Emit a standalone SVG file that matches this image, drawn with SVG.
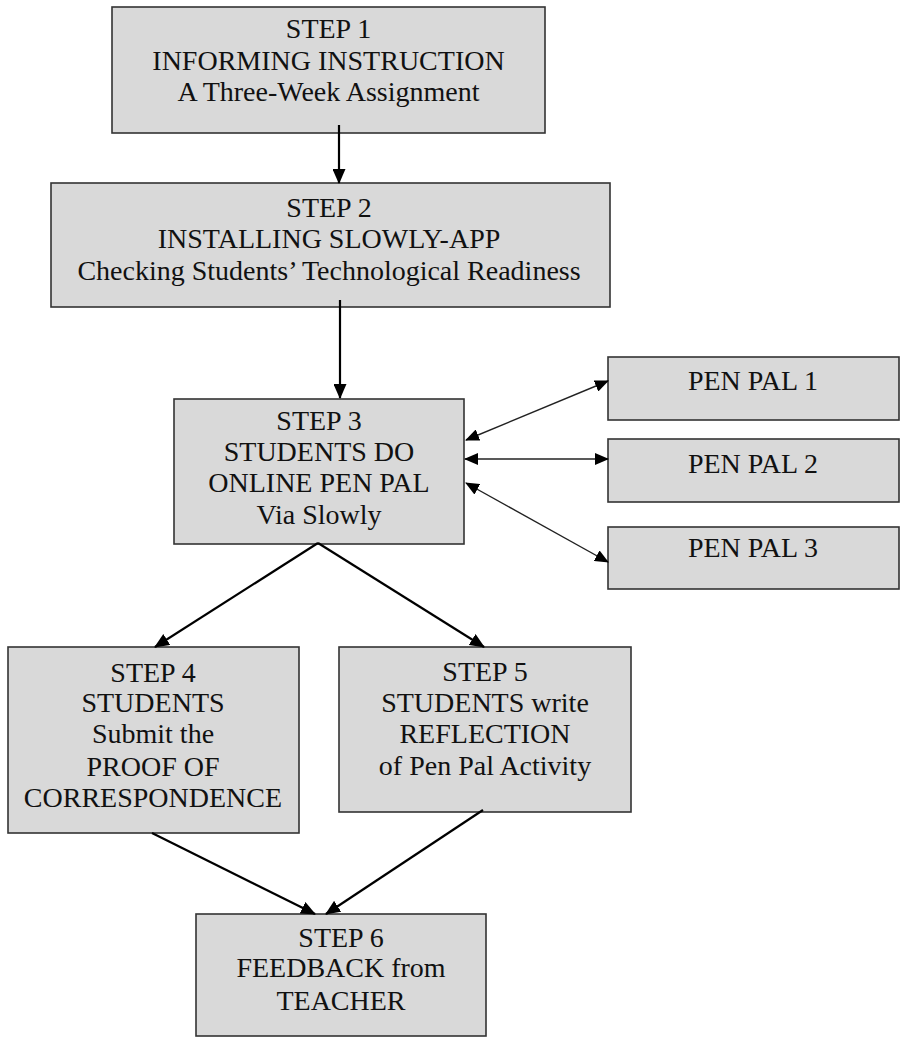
<svg xmlns="http://www.w3.org/2000/svg" width="902" height="1038" viewBox="0 0 902 1038">
<style>
.box{fill:#d9d9d9;stroke:#333;stroke-width:1.6}
.t{font-family:"Liberation Serif","Times New Roman",serif;font-size:28px;fill:#111;text-anchor:middle}
.c{stroke:#000;stroke-width:2.2;fill:none}
.cp{stroke:#222;stroke-width:1.4;fill:none}
</style>
<defs>
<marker id="ah" markerUnits="userSpaceOnUse" markerWidth="15" markerHeight="13" refX="14" refY="6.5" orient="auto-start-reverse" viewBox="0 0 15 13">
<path d="M0,0 L15,6.5 L0,13 z" fill="#000"/>
</marker>
<marker id="ahs" markerUnits="userSpaceOnUse" markerWidth="14" markerHeight="12" refX="13" refY="6" orient="auto-start-reverse" viewBox="0 0 14 12">
<path d="M0,0 L14,6 L0,12 z" fill="#000"/>
</marker>
</defs>
<rect width="902" height="1038" fill="#fff"/>
<g id="step1">
<rect class="box" x="112" y="7" width="433" height="126"/>
<text class="t" x="328.5" y="38">STEP 1</text>
<text class="t" x="328.5" y="70">INFORMING INSTRUCTION</text>
<text class="t" x="328.5" y="101">A Three-Week Assignment</text>
</g>
<g id="step2">
<rect class="box" x="51" y="183" width="559" height="124"/>
<text class="t" x="329" y="217">STEP 2</text>
<text class="t" x="329" y="248">INSTALLING SLOWLY-APP</text>
<text class="t" x="329" y="280">Checking Students’ Technological Readiness</text>
</g>
<g id="step3">
<rect class="box" x="174" y="399" width="290" height="145"/>
<text class="t" x="319" y="430">STEP 3</text>
<text class="t" x="319" y="461">STUDENTS DO</text>
<text class="t" x="319" y="492">ONLINE PEN PAL</text>
<text class="t" x="319" y="524">Via Slowly</text>
</g>
<g id="penpal1">
<rect class="box" x="608" y="357" width="291" height="63"/>
<text class="t" x="753" y="390">PEN PAL 1</text>
</g>
<g id="penpal2">
<rect class="box" x="608" y="439" width="291" height="63"/>
<text class="t" x="753" y="473">PEN PAL 2</text>
</g>
<g id="penpal3">
<rect class="box" x="608" y="527" width="291" height="62"/>
<text class="t" x="753" y="557">PEN PAL 3</text>
</g>
<g id="step4">
<rect class="box" x="8" y="647" width="291" height="186"/>
<text class="t" x="153" y="682">STEP 4</text>
<text class="t" x="153" y="712">STUDENTS</text>
<text class="t" x="153" y="743">Submit the</text>
<text class="t" x="153" y="776">PROOF OF</text>
<text class="t" x="153" y="807">CORRESPONDENCE</text>
</g>
<g id="step5">
<rect class="box" x="339" y="647" width="292" height="165"/>
<text class="t" x="485" y="681">STEP 5</text>
<text class="t" x="485" y="712">STUDENTS write</text>
<text class="t" x="485" y="743">REFLECTION</text>
<text class="t" x="485" y="775">of Pen Pal Activity</text>
</g>
<g id="step6">
<rect class="box" x="196" y="914" width="290" height="122"/>
<text class="t" x="341" y="947">STEP 6</text>
<text class="t" x="341" y="977">FEEDBACK from</text>
<text class="t" x="341" y="1010">TEACHER</text>
</g>
<g id="connectors">
<line class="c" x1="339" y1="125" x2="339" y2="183" marker-end="url(#ah)"/>
<line class="c" x1="340" y1="300" x2="340" y2="398" marker-end="url(#ah)"/>
<line class="c" x1="318" y1="543" x2="155" y2="647" marker-end="url(#ah)"/>
<line class="c" x1="318" y1="543" x2="484" y2="647" marker-end="url(#ah)"/>
<line class="c" x1="152" y1="833" x2="315" y2="914" marker-end="url(#ah)"/>
<line class="c" x1="483" y1="810" x2="326" y2="914" marker-end="url(#ah)"/>
<line class="cp" x1="466" y1="440" x2="608" y2="381" marker-start="url(#ahs)" marker-end="url(#ahs)"/>
<line class="cp" x1="465" y1="459" x2="608" y2="459" marker-start="url(#ahs)" marker-end="url(#ahs)"/>
<line class="cp" x1="466" y1="483" x2="608" y2="562" marker-start="url(#ahs)" marker-end="url(#ahs)"/>
</g>
</svg>
